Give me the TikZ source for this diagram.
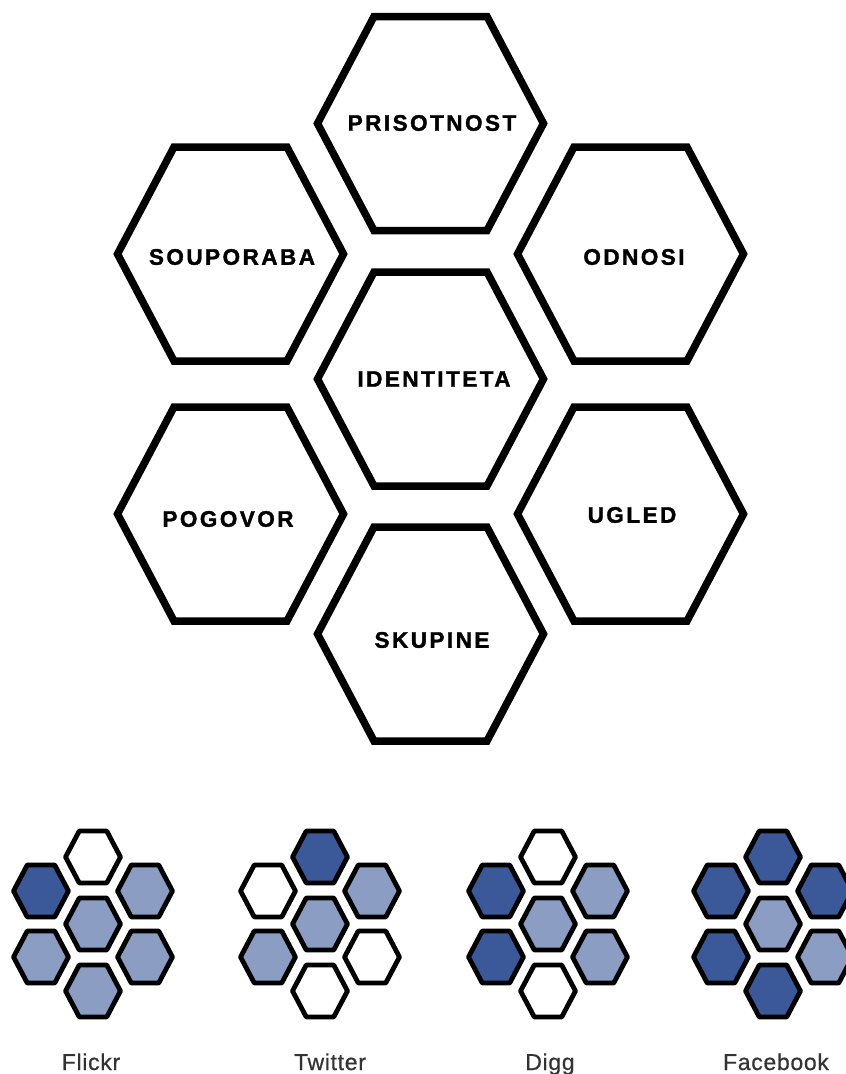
\documentclass[tikz,border=0pt]{standalone}
\usepackage{fontspec}
\setmainfont{Liberation Sans}
\newfontfamily\hexfont{Liberation Sans}[BoldFeatures={FakeBold=1.6}, LetterSpace=11]
\newfontfamily\sitefont{Liberation Sans}[FakeBold=0.6, LetterSpace=3]
\usepackage{tikz}
\usetikzlibrary{positioning}
\definecolor{fbDark}{HTML}{3B5998}
\definecolor{fbLight}{HTML}{8B9DC3}
\tikzset{
  hexa/.pic={\path[pic actions] (113,0) -- (56.5,107) -- (-56.5,107) -- (-113,0)
                -- (-56.5,-107) -- (56.5,-107) -- cycle;},
  bighex/.style={draw=black, line width=7.5pt, fill=white},
  smallhex/.style={draw=black, line width=4.8pt, line join=round, scale=0.243},
  hexlab/.style={font=\hexfont\fontsize{22.5}{26}\selectfont\bfseries, inner sep=0pt},
  sitelab/.style={font=\sitefont\fontsize{23}{28}\selectfont, text=black!80,
                  inner sep=0pt, anchor=base},
}
% one small cluster: x of centre, then fills top, ul, ur, centre, ll, lr, bottom
\newcommand{\siteHexes}[8]{%
  \pic[smallhex, fill=#2] at (#1,857) {hexa};
  \pic[smallhex, fill=#3] at ({#1-52},891) {hexa};
  \pic[smallhex, fill=#4] at ({#1+52},891) {hexa};
  \pic[smallhex, fill=#5] at (#1,924) {hexa};
  \pic[smallhex, fill=#6] at ({#1-52},957) {hexa};
  \pic[smallhex, fill=#7] at ({#1+52},957) {hexa};
  \pic[smallhex, fill=#8] at (#1,991) {hexa};
}

\begin{document}
\begin{tikzpicture}[x=1pt, y=-1pt]
  \useasboundingbox[fill=white] (0,0) rectangle (846,1074);

  % honeycomb
  \pic[bighex] at (430.5,123.5) {hexa};
  \pic[bighex] at (230.5,254) {hexa};
  \pic[bighex] at (630.5,254) {hexa};
  \pic[bighex] at (430.5,379) {hexa};
  \pic[bighex] at (230.5,514) {hexa};
  \pic[bighex] at (630.5,514) {hexa};
  \pic[bighex] at (430.5,634) {hexa};

  \node[hexlab] (prisotnost) at (432,123) {PRISOTNOST};
  \node[hexlab] (souporaba) at (232,257) {SOUPORABA};
  \node[hexlab] (odnosi) at (634,257) {ODNOSI};
  \node[hexlab] (identiteta) at (434,379) {IDENTITETA};
  \node[hexlab] (pogovor) at (228,519) {POGOVOR};
  \node[hexlab] (ugled) at (632,515) {UGLED};
  \node[hexlab] (skupine) at (432,640) {SKUPINE};

  % examples
  \siteHexes{93}{white}{fbDark}{fbLight}{fbLight}{fbLight}{fbLight}{fbLight}
  \siteHexes{320}{fbDark}{white}{fbLight}{fbLight}{fbLight}{white}{white}
  \siteHexes{548}{white}{fbDark}{fbLight}{fbLight}{fbDark}{fbLight}{white}
  \siteHexes{773}{fbDark}{fbDark}{fbDark}{fbLight}{fbDark}{fbLight}{fbDark}

  \node[sitelab] (flickr) at (91,1070) {Flickr};
  \node[sitelab] (twitter) at (330,1070) {Twitter};
  \node[sitelab] (digg) at (550,1070) {Digg};
  \node[sitelab] (facebook) at (776,1070) {Facebook};
\end{tikzpicture}
\end{document}
